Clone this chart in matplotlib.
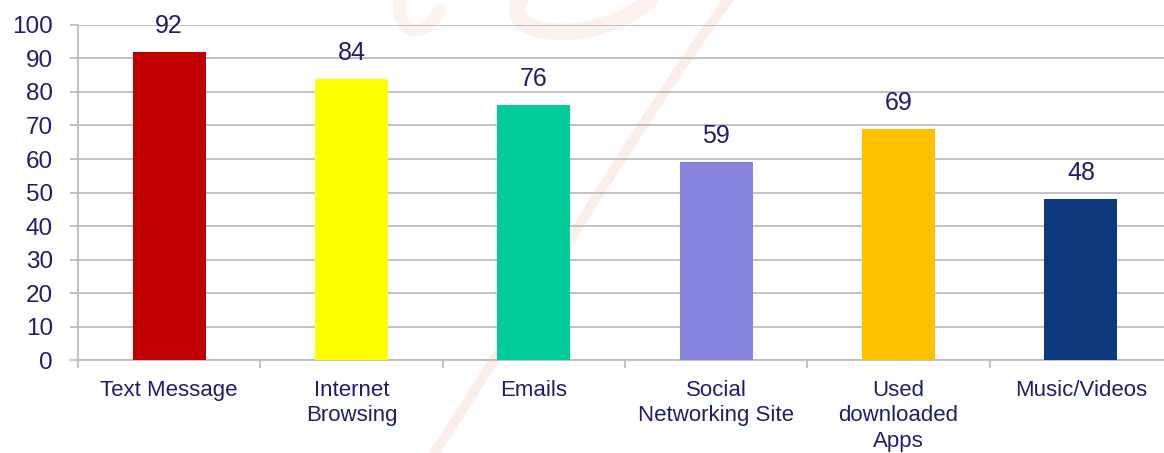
import matplotlib.pyplot as plt
import numpy as np
from matplotlib.path import Path
from matplotlib.patches import PathPatch

plt.rcParams['font.family'] = ['Liberation Sans', 'DejaVu Sans']

categories = ['Text Message', 'Internet\nBrowsing', 'Emails', 'Social\nNetworking Site',
              'Used\ndownloaded\nApps', 'Music/Videos']
values = [92, 84, 76, 59, 69, 48]
colors = ['#C00000', '#FFFF00', '#00CC99', '#8684DD', '#FFC000', '#0E3A7D']
text_color = '#1E1E6E'
grid_color = '#BDBDBD'

W, H = 1164, 453
fig = plt.figure(figsize=(W / 100, H / 100), dpi=100)

# faint watermark strokes in the background (pixel coords, y from top)
def stroke(pts, lw, alpha):
    verts = [(px / W, 1 - py / H) for px, py in pts]
    codes = [Path.MOVETO] + [Path.CURVE4] * (len(verts) - 1)
    fig.patches.append(PathPatch(Path(verts, codes), fill=False, lw=lw,
                                 edgecolor='#F4C4B0', alpha=alpha,
                                 transform=fig.transFigure, zorder=0,
                                 capstyle='round'))

stroke([(735, -10), (640, 120), (560, 260), (430, 460)], 7, 0.3)
stroke([(520, 0), (500, 40), (600, 45), (650, 0)], 12, 0.22)
stroke([(400, 0), (395, 30), (420, 45), (440, 10)], 9, 0.2)

ax = fig.add_axes([0.067, 0.205, 0.94, 0.74], zorder=2)
ax.patch.set_alpha(0)

x = np.arange(len(categories))
ax.bar(x, values, width=0.4, color=colors, zorder=3)

for xi, v in zip(x, values):
    ax.annotate(str(v), (xi, v), xytext=(0, 10), textcoords='offset points',
                ha='center', va='bottom', fontsize=18, color=text_color)

ax.set_xlim(-0.5, len(categories) - 0.5)
ax.set_ylim(0, 100)
ax.set_yticks(range(0, 101, 10))
ax.yaxis.grid(True, color=grid_color, linewidth=1.3, zorder=0)
ax.tick_params(axis='y', labelsize=17.5, labelcolor=text_color, color=grid_color,
               length=6, width=1.3, pad=12)

# x ticks sit on category borders, labels under the bars
ax.set_xticks(np.arange(len(categories) + 1) - 0.5)
ax.set_xticklabels([])
ax.set_xticks(x, minor=True)
ax.set_xticklabels(categories, minor=True, fontsize=16, color=text_color, linespacing=1.3)
ax.tick_params(axis='x', which='major', color=grid_color, length=6, width=1.3)
ax.tick_params(axis='x', which='minor', length=0, pad=14)

for s in ['top', 'right']:
    ax.spines[s].set_visible(False)
for s in ['left', 'bottom']:
    ax.spines[s].set_color(grid_color)
    ax.spines[s].set_linewidth(1.3)

fig.savefig('out.png', dpi=100)
